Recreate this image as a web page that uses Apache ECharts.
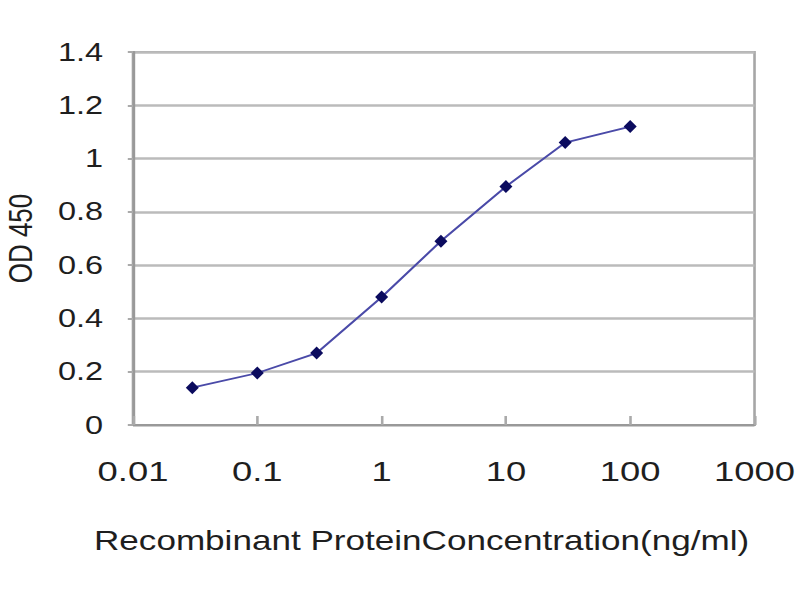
<!DOCTYPE html>
<html>
<head>
<meta charset="utf-8">
<script src="https://cdn.jsdelivr.net/npm/echarts@6/dist/echarts.min.js"></script>
<style>
  html, body { margin: 0; padding: 0; background: #ffffff; overflow: hidden; }
  #wrap { width: 800px; height: 600px; overflow: hidden; }
  /* the reference picture is horizontally stretched; reproduce that with a scaleX */
  #chart { width: 615.3846px; height: 600px; transform: scaleX(1.3); transform-origin: 0 0; }
</style>
</head>
<body>
<div id="wrap"><div id="chart"></div></div>
<script>
// ---- data ----
const concentrations = [0.03, 0.1, 0.3, 1, 3, 10, 30, 100];       // ng/ml
const od450 = [0.14, 0.195, 0.27, 0.48, 0.69, 0.895, 1.06, 1.12];   // OD 450
const xTickLabels = ['0.01', '0.1', '1', '10', '100', '1000'];
const yAxisName = 'OD 450';
const xAxisTitle = 'Recombinant ProteinConcentration(ng/ml)';

const FONT = '"Liberation Sans", Arial, sans-serif';
const chart = echarts.init(document.getElementById('chart'), null, { renderer: 'svg' });

const points = concentrations.map((c, i) => [c, od450[i]]);

chart.setOption({
  backgroundColor: '#ffffff',
  animation: false,
  grid: {
    left: 102.3, right: 34.6, top: 52, bottom: 175,
    outerBoundsMode: 'none', containLabel: false,
    show: true, borderColor: '#a6a6a6', borderWidth: 2, backgroundColor: '#ffffff'
  },
  xAxis: {
    type: 'log', logBase: 10, min: 0.01, max: 1000,
    axisLine: { show: true, lineStyle: { color: '#999999', width: 2 } },
    axisTick: { show: true, inside: true, length: 9, lineStyle: { color: '#aaaaaa', width: 2 } },
    minorTick: { show: false },
    splitLine: { show: false },
    axisLabel: {
      margin: 33, fontSize: 28, fontFamily: FONT, color: '#1e1e1e',
      formatter: function (v) {
        const e = Math.round(Math.log10(v));
        return xTickLabels[e + 2];
      }
    }
  },
  yAxis: {
    type: 'value', min: 0, max: 1.4, interval: 0.2,
    name: yAxisName, nameLocation: 'middle', nameRotate: 90, nameGap: 74,
    nameTextStyle: { fontSize: 26, fontFamily: FONT, color: '#1e1e1e' },
    axisLine: { show: true, lineStyle: { color: '#999999', width: 2 } },
    axisTick: { show: true, length: 4, lineStyle: { color: '#aaaaaa', width: 2 } },
    splitLine: { show: true, lineStyle: { color: '#bbbbbb', width: 2.5 } },
    axisLabel: {
      margin: 23, fontSize: 25, fontFamily: FONT, color: '#1e1e1e',
      formatter: function (v) { return String(Math.round(v * 10) / 10); }
    }
  },
  graphic: [{
    type: 'text',
    x: 72.3, y: 541,
    style: {
      text: xAxisTitle,
      font: '27px ' + FONT,
      fill: '#1e1e1e',
      verticalAlign: 'middle',
      align: 'left'
    }
  }],
  series: [{
    type: 'line',
    data: points,
    symbol: 'diamond',
    symbolSize: [10, 13],
    lineStyle: { color: '#4a4aa8', width: 1.8 },
    itemStyle: { color: '#0b0b5e' },
    emphasis: { disabled: true }
  }]
});
</script>
</body>
</html>
